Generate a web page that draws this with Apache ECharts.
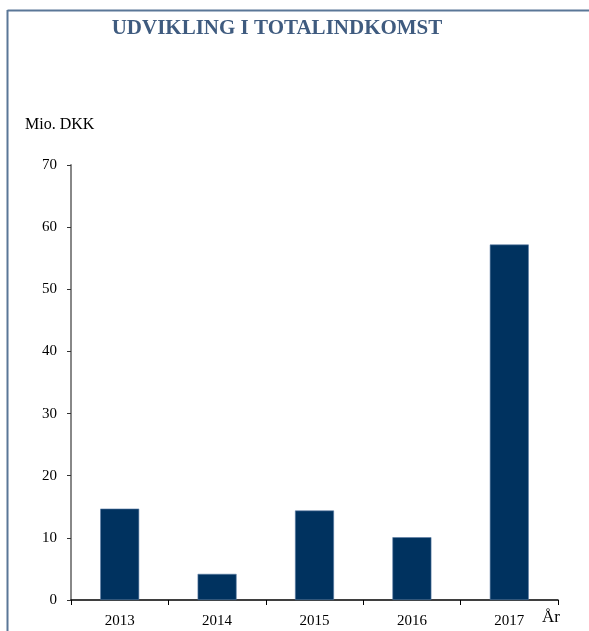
<!DOCTYPE html>
<html>
<head>
<meta charset="utf-8">
<script src="https://cdn.jsdelivr.net/npm/echarts@6/dist/echarts.min.js"></script>
<style>
  html, body { margin: 0; padding: 0; background: #ffffff; }
  #chart { width: 589px; height: 631px; }
</style>
</head>
<body>
<div id="chart"></div>
<script>
// Totalindkomst pr. år (mio. DKK)
const years = ['2013', '2014', '2015', '2016', '2017'];
const totalIncome = [14.7, 4.2, 14.4, 10.1, 57.2];
const yTicks = { min: 0, max: 70, interval: 10 };

const serif = '"Liberation Serif", "DejaVu Serif", serif';
const frameColor = '#5a7797';

const chart = echarts.init(document.getElementById('chart'), null, { renderer: 'canvas' });

chart.setOption({
  backgroundColor: '#ffffff',
  animation: false,
  title: {
    text: 'UDVIKLING I TOTALINDKOMST',
    left: 272,
    textAlign: 'center',
    top: 13,
    textStyle: { fontFamily: serif, fontWeight: 'bold', fontSize: 21, color: '#3f5b7f' }
  },
  grid: { left: 71, right: 31, top: 165, bottom: 31, containLabel: false },
  xAxis: {
    type: 'category',
    data: years,
    boundaryGap: true,
    axisLine: { show: true, lineStyle: { color: '#000000', width: 1.5 } },
    axisTick: { show: true, length: 5, inside: false, lineStyle: { color: '#000000', width: 1 } },
    axisLabel: { margin: 14, fontFamily: serif, fontSize: 15, color: '#000000' },
    splitLine: { show: false }
  },
  yAxis: {
    type: 'value',
    min: yTicks.min,
    max: yTicks.max,
    interval: yTicks.interval,
    axisLine: { show: true, lineStyle: { color: '#888888', width: 2 } },
    axisTick: { show: true, length: 4, lineStyle: { color: '#333333', width: 1 } },
    axisLabel: { margin: 14, fontFamily: serif, fontSize: 15, color: '#000000' },
    splitLine: { show: false }
  },
  series: [{
    type: 'bar',
    data: totalIncome,
    barWidth: '40%',
    itemStyle: { color: '#00325f', borderColor: '#5a7ca4', borderWidth: 0.6 }
  }],
  graphic: [
    // frame lines
    { type: 'line', shape: { x1: 7.5, y1: 10.5, x2: 589, y2: 10.5 }, style: { stroke: frameColor, lineWidth: 2 } },
    { type: 'line', shape: { x1: 7.5, y1: 10, x2: 7.5, y2: 631 }, style: { stroke: frameColor, lineWidth: 2 } },
    // axis captions
    { type: 'text', left: 25, top: 117, style: { text: 'Mio. DKK', font: '16px ' + serif, fill: '#000000' } },
    { type: 'text', left: 542, top: 609, style: { text: 'År', font: '17px ' + serif, fill: '#000000' } }
  ]
});
</script>
</body>
</html>
